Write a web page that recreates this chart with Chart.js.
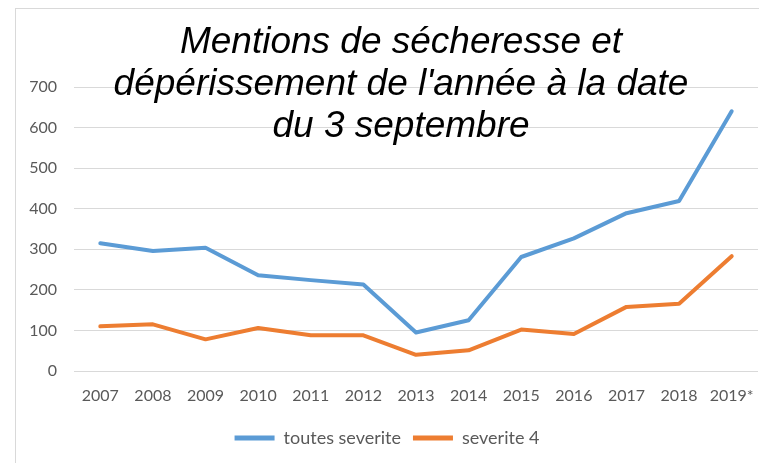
<!DOCTYPE html>
<html>
<head>
<meta charset="utf-8">
<script src="https://cdn.jsdelivr.net/npm/chart.js@4/dist/chart.umd.min.js"></script>
<style>
  html, body { margin: 0; padding: 0; background: #fff; overflow: hidden; width: 759px; height: 463px; }
  #frame { position: absolute; left: 15px; top: 8px; width: 770px; height: 460px; border-left: 1px solid #d9d9d9; border-top: 1px solid #d9d9d9; }
  #c { display: block; }
</style>
</head>
<body>
<div id="frame"><canvas id="c" width="770" height="460"></canvas></div>
<script>
const categories = ['2007','2008','2009','2010','2011','2012','2013','2014','2015','2016','2017','2018','2019*'];
const toutesSeverite = [315, 296, 304, 236, 224, 213, 95, 125, 281, 327, 389, 419, 640];
const severite4 = [110, 115, 78, 106, 88, 88, 40, 51, 102, 91, 158, 166, 283];
const yTicks = [0, 100, 200, 300, 400, 500, 600, 700];
const seriesNames = ['toutes severite', 'severite 4'];
const titleLines = ["Mentions de sécheresse et", "dépérissement de l'année à la date", "du 3 septembre"];

const BLUE = '#5B9BD5', ORANGE = '#ED7D31', GRID = '#D9D9D9', TXT = '#595959';
const FONT = 'Lato, "Open Sans", sans-serif';

const titlePlugin = {
  id: 'overlayTitle',
  afterDraw(chart) {
    const ctx = chart.ctx;
    ctx.save();
    ctx.font = 'italic 37px "Liberation Sans", Arial, sans-serif';
    ctx.fillStyle = '#000';
    ctx.textAlign = 'center';
    ctx.textBaseline = 'alphabetic';
    const cx = chart.width / 2;
    const base = [44, 86, 128];
    titleLines.forEach((t, i) => ctx.fillText(t, cx, base[i]));
    ctx.restore();
  }
};

new Chart(document.getElementById('c'), {
  type: 'line',
  data: {
    labels: categories,
    datasets: [
      { label: seriesNames[0], data: toutesSeverite, borderColor: BLUE, backgroundColor: BLUE, borderWidth: 4, pointRadius: 0, tension: 0, borderJoinStyle: 'round', borderCapStyle: 'round' },
      { label: seriesNames[1], data: severite4, borderColor: ORANGE, backgroundColor: ORANGE, borderWidth: 4, pointRadius: 0, tension: 0, borderJoinStyle: 'round', borderCapStyle: 'round' }
    ]
  },
  options: {
    responsive: false,
    animation: false,
    layout: { padding: { top: 78, right: 28, bottom: 12, left: 0 } },
    scales: {
      x: {
        offset: true,
        grid: { display: false, drawTicks: false },
        border: { display: false },
        ticks: { color: TXT, font: { family: FONT, size: 16 }, padding: 15, maxRotation: 0, autoSkip: false },
        afterFit(s) { s.height = 46; }
      },
      y: {
        min: 0, max: 700,
        grid: { color: GRID, lineWidth: 1, drawTicks: false },
        border: { display: false },
        afterBuildTicks(s) { s.ticks = yTicks.map(v => ({ value: v })); },
        ticks: { color: TXT, font: { family: FONT, size: 16 }, padding: 17 },
        afterFit(s) { s.width = 58; }
      }
    },
    plugins: {
      title: { display: false },
      tooltip: { enabled: false },
      legend: {
        position: 'bottom',
        labels: {
          color: TXT,
          font: { family: FONT, size: 18 },
          boxWidth: 40,
          boxHeight: 5,
          padding: 12,
          generateLabels(chart) {
            const items = Chart.defaults.plugins.legend.labels.generateLabels(chart);
            return items.map(it => Object.assign(it, { lineWidth: 0, fillStyle: it.strokeStyle }));
          }
        }
      }
    }
  },
  plugins: [titlePlugin]
});
</script>
</body>
</html>
